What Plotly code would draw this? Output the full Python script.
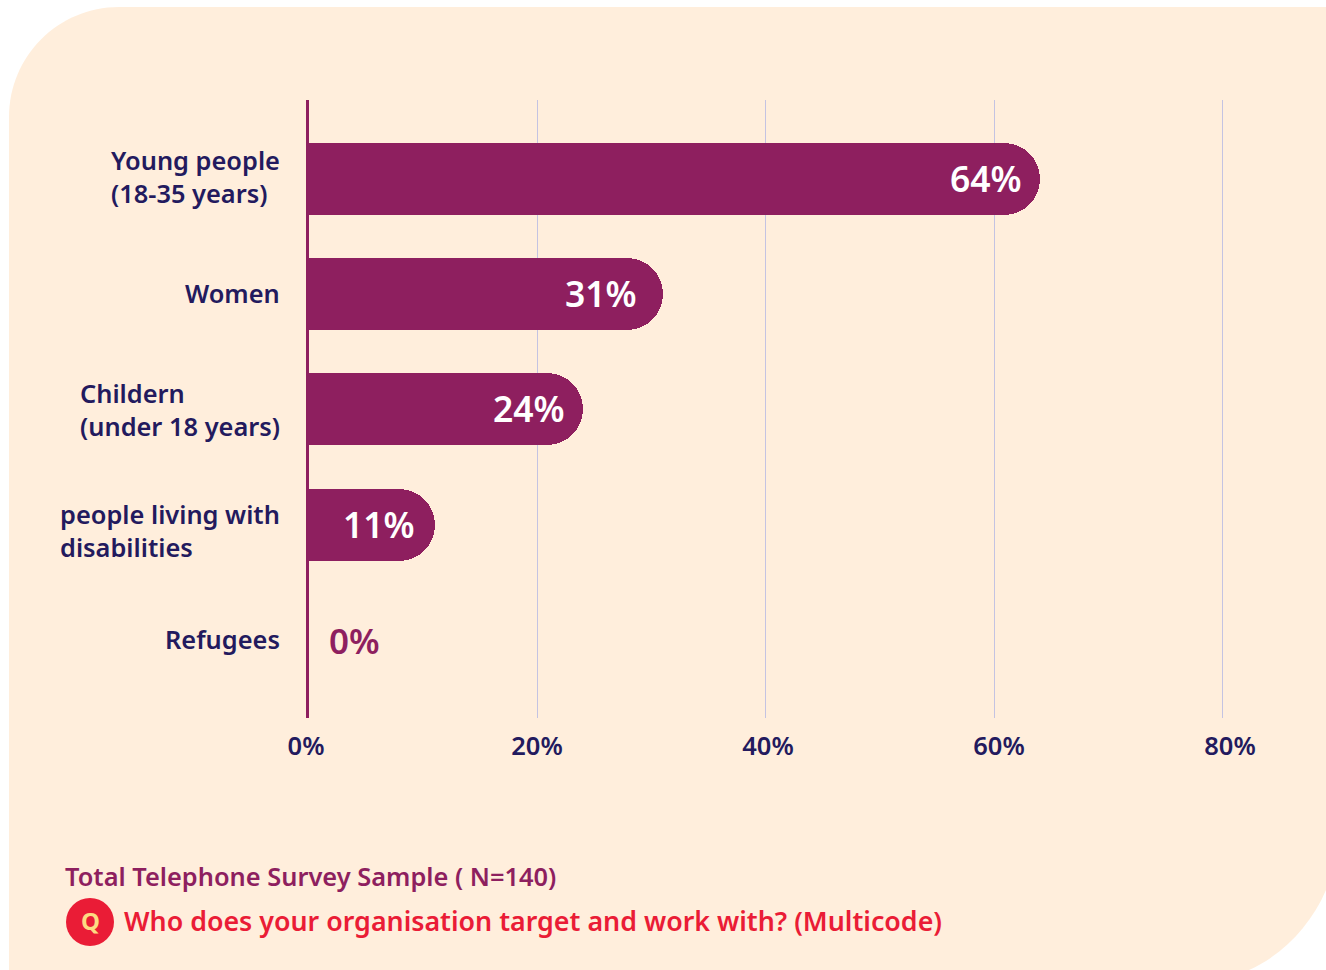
import plotly.graph_objects as go

# Survey results: share of organisations working with each group
groups = ["Young people", "Women", "Children", "People living with disabilities", "Refugees"]
group_labels = ["Young people<br>(18-35 years)", "Women", "Childern<br>(under 18 years)",
                "people living with<br>disabilities", "Refugees"]
shares = [64, 31, 24, 11, 0]
tick_values = [0, 20, 40, 60, 80]
tick_labels = ["0%", "20%", "40%", "60%", "80%"]
sample_note = "Total Telephone Survey Sample ( N=140)"
question = "Who does your organisation target and work with? (Multicode)"

W, H = 1326, 970
FONT = "Noto Sans"
NAVY = "#231A5E"
PLUM = "#8E1F5F"
RED = "#EA1C36"
PANEL = "#FFEEDC"
GRID = "#C4C3E2"


def px(x):
    return x / W


def py(y):
    return 1 - y / H


def panel_path():
    # Page-sized panel with two rounded corners, built in pixel terms
    k = 0.5523
    r = 110
    left, top, right, bottom = 9, 7, W, H
    pts = [
        f"M {px(left)} {py(top + r)}",
        f"C {px(left)} {py(top + r - k * r)} {px(left + r - k * r)} {py(top)} {px(left + r)} {py(top)}",
        f"L {px(right)} {py(top)}",
        f"L {px(right)} {py(890)}",
        f"C {px(1311)} {py(925)} {px(1283)} {py(955)} {px(1249)} {py(bottom)}",
        f"L {px(left)} {py(bottom)}",
        "Z",
    ]
    return " ".join(pts)


fig = go.Figure()

fig.add_bar(
    x=shares, y=groups, orientation="h", width=0.625,
    marker=dict(color=PLUM, cornerradius=36, line_width=0),
    hoverinfo="skip", showlegend=False,
)
# Carries the tick-label axis, which is spaced a little wider than the gridlines
fig.add_scatter(
    x=tick_values, y=[groups[0]] * len(tick_values), xaxis="x2", mode="markers",
    marker=dict(opacity=0), hoverinfo="skip", showlegend=False,
)

annotations = []

# Group names to the left of the axis line
name_shift = [3, 1, 0, -6, 1]
for g, label, dy in zip(groups, group_labels, name_shift):
    annotations.append(dict(
        x=0, y=g, xref="x", yref="y", text=label, showarrow=False,
        xanchor="right", yanchor="middle", align="left", xshift=-27, yshift=dy,
        font=dict(family=FONT, size=25.4, color=NAVY, weight=600),
    ))

# Value labels: inside the bar end, or just past the axis when the bar is empty
value_inset = [16, 24, 16, 18, 18]
for g, v, inset in zip(groups, shares, value_inset):
    inside = v > 0
    annotations.append(dict(
        x=v, y=g, xref="x", yref="y", text=f"{v}%", showarrow=False,
        xanchor="right" if inside else "left", yanchor="middle",
        xshift=-inset if inside else inset, yshift=1 if inside else -1,
        font=dict(family=FONT, size=35.5 if inside else 35, weight=600,
                  color="white" if inside else PLUM),
    ))

# Footer notes
annotations.append(dict(
    x=px(63), y=py(876), xref="paper", yref="paper", text=sample_note, showarrow=False,
    xanchor="left", yanchor="middle", font=dict(family=FONT, size=25.4, color=PLUM, weight=600),
))
annotations.append(dict(
    x=px(122), y=py(920), xref="paper", yref="paper", text=question, showarrow=False,
    xanchor="left", yanchor="middle", font=dict(family=FONT, size=26.8, color=RED, weight=600),
))
annotations.append(dict(
    x=px(90), y=py(920), xref="paper", yref="paper", text="Q", showarrow=False,
    xanchor="center", yanchor="middle", font=dict(family=FONT, size=24, color="#FDDB82", weight=700),
))

fig.update_layout(
    width=W, height=H,
    margin=dict(l=0, r=0, t=0, b=0, autoexpand=False),
    paper_bgcolor="white", plot_bgcolor="rgba(0,0,0,0)",
    bargap=0,
    font=dict(family=FONT),
    shapes=[
        dict(type="path", path=panel_path(), xref="paper", yref="paper",
             fillcolor=PANEL, line_width=0, layer="below"),
        dict(type="circle", xref="paper", yref="paper",
             x0=px(66), x1=px(114), y0=py(946), y1=py(898),
             fillcolor=RED, line_width=0, layer="below"),
    ],
    annotations=annotations,
    xaxis=dict(
        # Runs slightly past 80 so the last gridline is kept
        domain=[px(309), px(1245.5)], range=[0, 82], tickvals=tick_values,
        showticklabels=False, ticks="", showgrid=True, gridcolor=GRID, gridwidth=1,
        zeroline=False, showline=False, anchor="y",
    ),
    xaxis2=dict(
        domain=[px(306), px(1230)], range=[0, 80], tickvals=tick_values, ticktext=tick_labels,
        side="bottom", anchor="y", showgrid=False, zeroline=False,
        ticks="outside", ticklen=5, tickcolor="rgba(0,0,0,0)",
        tickfont=dict(family=FONT, size=25.5, color=NAVY, weight=600), showline=False,
    ),
    yaxis=dict(
        domain=[py(718), py(100)], type="category", categoryorder="array", categoryarray=groups,
        range=[4.68, -0.686], showticklabels=False, ticks="", showgrid=False, zeroline=False,
        showline=True, linecolor=PLUM, linewidth=2.5, anchor="x",
    ),
)

fig.write_html("out.html", config=dict(displayModeBar=False))
